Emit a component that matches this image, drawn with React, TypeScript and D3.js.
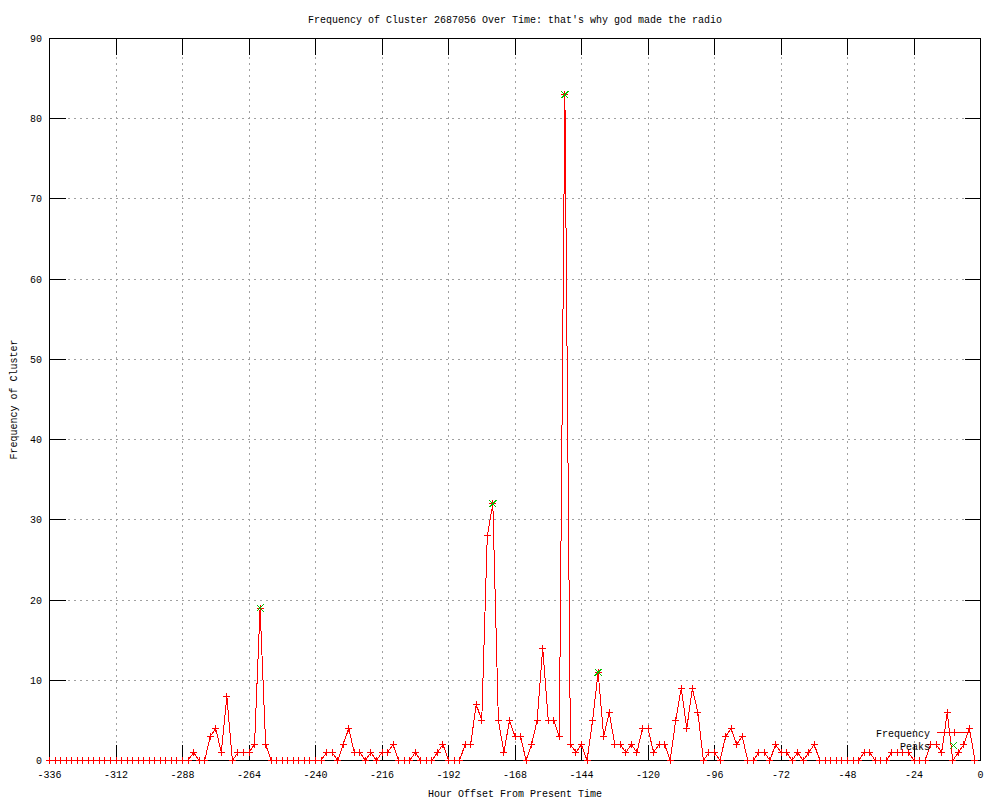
import React from "react";
import * as d3 from "d3";

const TITLE = "Frequency of Cluster 2687056 Over Time: that's why god made the radio";
const X_LABEL = "Hour Offset From Present Time";
const Y_LABEL = "Frequency of Cluster";

const HOURS = [
  -336, -334, -332, -330, -328, -326, -324, -322, -320, -318, -316, -314,
  -312, -310, -308, -306, -304, -302, -300, -298, -296, -294, -292, -290,
  -288, -286, -284, -282, -280, -278, -276, -274, -272, -270, -268, -266,
  -264, -262, -260, -258, -256, -254, -252, -250, -248, -246, -244, -242,
  -240, -238, -236, -234, -232, -230, -228, -226, -224, -222, -220, -218,
  -216, -214, -212, -210, -208, -206, -204, -202, -200, -198, -196, -194,
  -192, -190, -188, -186, -184, -182, -180, -178, -176, -174, -172, -170,
  -168, -166, -164, -162, -160, -158, -156, -154, -152, -150, -148, -146,
  -144, -142, -140, -138, -136, -134, -132, -130, -128, -126, -124, -122,
  -120, -118, -116, -114, -112, -110, -108, -106, -104, -102, -100, -98,
  -96, -94, -92, -90, -88, -86, -84, -82, -80, -78, -76, -74,
  -72, -70, -68, -66, -64, -62, -60, -58, -56, -54, -52, -50,
  -48, -46, -44, -42, -40, -38, -36, -34, -32, -30, -28, -26,
  -24, -22, -20, -18, -16, -14, -12, -10, -8, -6, -4, -2,
];

const FREQUENCY = [
  0, 0, 0, 0, 0, 0, 0, 0, 0, 0, 0, 0,
  0, 0, 0, 0, 0, 0, 0, 0, 0, 0, 0, 0,
  0, 0, 1, 0, 0, 3, 4, 1, 8, 0, 1, 1,
  1, 2, 19, 2, 0, 0, 0, 0, 0, 0, 0, 0,
  0, 0, 1, 1, 0, 2, 4, 1, 1, 0, 1, 0,
  1, 1, 2, 0, 0, 0, 1, 0, 0, 0, 1, 2,
  0, 0, 0, 2, 2, 7, 5, 28, 32, 5, 1, 5,
  3, 3, 0, 2, 5, 14, 5, 5, 3, 83, 2, 1,
  2, 0, 5, 11, 3, 6, 2, 2, 1, 2, 1, 4,
  4, 1, 2, 2, 0, 5, 9, 4, 9, 6, 0, 1,
  1, 0, 3, 4, 2, 3, 0, 0, 1, 1, 0, 2,
  1, 1, 0, 1, 0, 1, 2, 0, 0, 0, 0, 0,
  0, 0, 0, 1, 1, 0, 0, 0, 1, 1, 1, 1,
  0, 0, 0, 2, 2, 1, 6, 0, 1, 2, 4, 0,
];

const PEAK_HOURS = [-260, -176, -150, -138];
const PEAK_VALUES = [19, 32, 83, 11];

const X_TICKS = [-336, -312, -288, -264, -240, -216, -192, -168, -144, -120, -96, -72, -48, -24, 0];
const Y_TICKS = [0, 10, 20, 30, 40, 50, 60, 70, 80, 90];

const LEGEND = ["Frequency", "Peaks"];

const W = 1000;
const H = 800;
const LEFT = 49.5;
const RIGHT = 980.5;
const TOP = 38.5;
const BOTTOM = 760.5;
const TICK = 16;
const FONT = "'Liberation Mono', 'DejaVu Sans Mono', monospace";
const RED = "#ff0000";
const GREEN = "#00c000";

export default function App() {
  const x = d3.scaleLinear().domain([-336, 0]).range([LEFT, RIGHT]);
  const y = d3.scaleLinear().domain([0, 90]).range([BOTTOM, TOP]);

  const pts = HOURS.map((h, i) => [x(h), y(FREQUENCY[i])] as [number, number]);
  const line = d3.line<[number, number]>().x((d) => d[0]).y((d) => d[1]);
  const plus = (cx: number, cy: number, s = 3.5) =>
    `M${cx - s},${cy}H${cx + s}M${cx},${cy - s}V${cy + s}`;
  const cross = (cx: number, cy: number, s = 3.5) =>
    `M${cx - s},${cy - s}L${cx + s},${cy + s}M${cx - s},${cy + s}L${cx + s},${cy - s}`;

  const plusPath = pts.map((p) => plus(p[0], p[1])).join("");
  const peakPath = PEAK_HOURS.map((h, i) => cross(x(h), y(PEAK_VALUES[i]))).join("");

  const cx = (LEFT + RIGHT) / 2;

  return (
    <svg width={W} height={H} viewBox={`0 0 ${W} ${H}`} style={{ display: "block", position: "absolute", left: 0, top: 0, background: "#fff" }}>
      <rect x={0} y={0} width={W} height={H} fill="#fff" />
      {/* grid */}
      <g stroke="#a0a0a0" strokeWidth={1} strokeDasharray="2,4" shapeRendering="crispEdges">
        {X_TICKS.filter((t) => t !== -336 && t !== 0).map((t) => (
          <line key={"gx" + t} x1={x(t)} x2={x(t)} y1={TOP} y2={BOTTOM} />
        ))}
        {Y_TICKS.filter((t) => t !== 0 && t !== 90).map((t) => (
          <line key={"gy" + t} x1={LEFT} x2={RIGHT} y1={y(t)} y2={y(t)} />
        ))}
      </g>
      {/* ticks */}
      <g stroke="#000" strokeWidth={1} shapeRendering="crispEdges">
        {X_TICKS.map((t) => (
          <g key={"tx" + t}>
            <line x1={x(t)} x2={x(t)} y1={BOTTOM} y2={BOTTOM - TICK} />
            <line x1={x(t)} x2={x(t)} y1={TOP} y2={TOP + TICK} />
          </g>
        ))}
        {Y_TICKS.map((t) => (
          <g key={"ty" + t}>
            <line x1={LEFT} x2={LEFT + TICK} y1={y(t)} y2={y(t)} />
            <line x1={RIGHT} x2={RIGHT - TICK} y1={y(t)} y2={y(t)} />
          </g>
        ))}
        <rect x={LEFT} y={TOP} width={RIGHT - LEFT} height={BOTTOM - TOP} fill="none" />
      </g>
      {/* tick labels */}
      <g fontFamily={FONT} fontSize={10} fill="#000">
        {Y_TICKS.map((t) => (
          <text key={"ly" + t} x={42} y={y(t) + 3.5} textAnchor="end">{t}</text>
        ))}
        {X_TICKS.map((t) => (
          <text key={"lx" + t} x={x(t)} y={778} textAnchor="middle">{t}</text>
        ))}
        <text x={cx} y={23} textAnchor="middle">{TITLE}</text>
        <text x={cx} y={797} textAnchor="middle">{X_LABEL}</text>
        <text transform={`translate(17,${(TOP + BOTTOM) / 2}) rotate(-90)`} textAnchor="middle">{Y_LABEL}</text>
      </g>
      {/* data */}
      <path d={line(pts) || ""} fill="none" stroke={RED} strokeWidth={1} shapeRendering="crispEdges" />
      <path d={plusPath} fill="none" stroke={RED} strokeWidth={1} shapeRendering="crispEdges" />
      <path d={peakPath} fill="none" stroke={GREEN} strokeWidth={1} shapeRendering="crispEdges" />
      {/* legend */}
      <g fontFamily={FONT} fontSize={10} fill="#000">
        <text x={930} y={737} textAnchor="end">{LEGEND[0]}</text>
        <text x={930} y={750} textAnchor="end">{LEGEND[1]}</text>
      </g>
      <line x1={937} x2={971} y1={732.5} y2={732.5} stroke={RED} strokeWidth={1} shapeRendering="crispEdges" />
      <path d={plus(954, 732.5)} fill="none" stroke={RED} strokeWidth={1} shapeRendering="crispEdges" />
      <path d={cross(953.5, 745.5)} fill="none" stroke={GREEN} strokeWidth={1} shapeRendering="crispEdges" />
    </svg>
  );
}
